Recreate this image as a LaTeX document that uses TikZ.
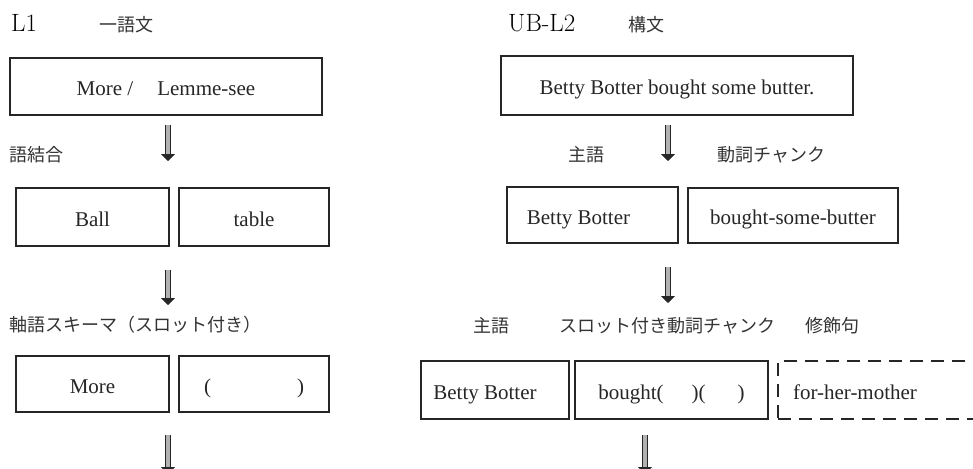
\documentclass[tikz,border=0pt]{standalone}
\usepackage{fontspec}
\newfontfamily\lib{Liberation Serif}
\newfontfamily\jp{Noto Sans CJK JP}
\usetikzlibrary{arrows.meta}
\begin{document}
\begin{tikzpicture}[x=1pt,y=-1pt,
  box/.style={draw=black!85, line width=1.6pt, inner sep=0pt, text height=22pt, text depth=4pt, font=\lib\fontsize{21}{25}\selectfont, text=black!85},
  dbox/.style={box, dash pattern=on 13pt off 8pt},
  jlab/.style={font=\jp\fontsize{18}{21}\selectfont, inner sep=0pt, text=black!80},
  head/.style={font=\fontsize{25}{29}\selectfont, inner sep=0pt, anchor=base west, text=black},
  fatarrow/.style={draw=black!85, line width=1pt, double=black!30, double distance=4.5pt, -{Triangle[width=14pt,length=7pt]}}
]
\useasboundingbox (0,0) rectangle (973,468);
\clip (0,0) rectangle (973,468);
% headings
\node[head] (hL1) at (11,32) {L1};
\node[jlab] (jL1) at (126.5,25) {一語文};
\node[head] (hL2) at (508,32) {UB-L2};
\node[jlab] (jL2) at (646,25) {構文};
% left column
\node[box, minimum width=312pt, minimum height=57pt] (b1) at (166,86.5) {More /\hspace{24pt}Lemme-see};
\node[jlab, anchor=west] (lab1) at (9,155) {語結合};
\node[box, minimum width=153pt, minimum height=58pt] (b2) at (92.5,217) {Ball};
\node[box, minimum width=150pt, minimum height=58pt] (b3) at (254,217) {table};
\node[jlab, anchor=west] (lab2) at (9,325) {軸語スキーマ（スロット付き）};
\node[box, minimum width=153pt, minimum height=56pt] (b4) at (92.5,384) {More};
\node[box, minimum width=150pt, minimum height=56pt] (b5) at (254,384) {(\hspace{86pt})};
\coordinate (a1s) at (168,125); \coordinate (a1e) at (168,161);
\coordinate (a2s) at (168,270); \coordinate (a2e) at (168,305);
\coordinate (a3s) at (168,435); \coordinate (a3e) at (168,474);
\draw[fatarrow] (a1s) -- (a1e);
\draw[fatarrow] (a2s) -- (a2e);
\draw[fatarrow] (a3s) -- (a3e);
% right column
\node[box, minimum width=352pt, minimum height=59pt] (r1) at (677,85.5) {Betty Botter bought some butter.};
\node[jlab] (lab3) at (586.5,155) {主語};
\node[jlab] (lab4) at (771.5,155) {動詞チャンク};
\node[box, minimum width=171pt, minimum height=56pt] (r2) at (592.5,215) {Betty Botter\hspace*{28pt}\null};
\node[box, minimum width=210pt, minimum height=55pt] (r3) at (793,215.5) {bought-some-butter};
\node[jlab] (lab5) at (491.5,326) {主語};
\node[jlab] (lab6) at (667.5,326) {スロット付き動詞チャンク};
\node[jlab] (lab7) at (832.5,326) {修飾句};
\node[box, minimum width=148pt, minimum height=58pt] (r4) at (495,390) {Betty Botter\hspace*{20pt}\null};
\node[box, minimum width=193pt, minimum height=58pt] (r5) at (671.5,390) {bought(\hspace{28pt})(\hspace{32pt})};
\node[dbox, minimum width=222pt, minimum height=58pt] (r6) at (889,390) {for-her-mother\hspace*{68pt}\null};
\coordinate (c1s) at (668,125); \coordinate (c1e) at (668,161);
\coordinate (c2s) at (668,267); \coordinate (c2e) at (668,303);
\coordinate (c3s) at (645,435); \coordinate (c3e) at (645,474);
\draw[fatarrow] (c1s) -- (c1e);
\draw[fatarrow] (c2s) -- (c2e);
\draw[fatarrow] (c3s) -- (c3e);
\end{tikzpicture}
\end{document}
